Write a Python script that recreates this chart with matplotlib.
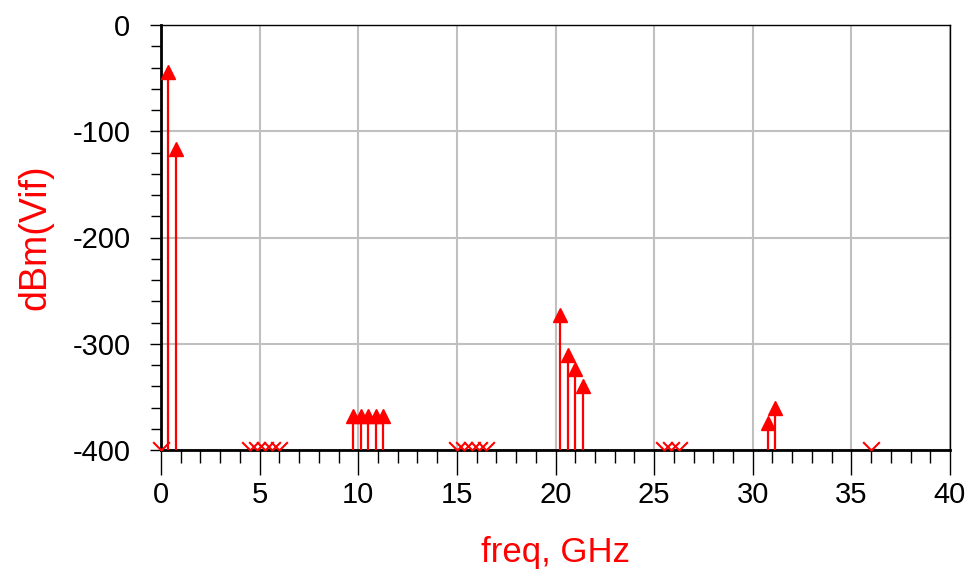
import numpy as np
import matplotlib.pyplot as plt
from matplotlib.path import Path
from matplotlib.ticker import MultipleLocator

plt.rcParams['font.family'] = ['Liberation Sans', 'DejaVu Sans']

# spectral lines above the plot floor (GHz, dBm)
arrow_freq = [0.375, 0.75, 9.75, 10.125, 10.5, 10.875, 11.25,
              20.25, 20.625, 21.0, 21.375, 30.75, 31.125]
arrow_dbm = [-44, -117, -368, -368, -368, -368, -368,
             -273, -311, -324, -340, -375, -360]

# tones below the -400 dBm floor
floor_freq = [0, 4.5, 4.875, 5.25, 5.625, 6.0,
              15.0, 15.375, 15.75, 16.125, 16.5,
              25.5, 25.875, 26.25, 36.0]

xticks = [0, 5, 10, 15, 20, 25, 30, 35, 40]
yticks = [0, -100, -200, -300, -400]
floor = -400

red = '#ff0000'
chevron = Path([(-1, 1), (0, 0), (1, 1)],
               [Path.MOVETO, Path.LINETO, Path.LINETO])

fig = plt.figure(figsize=(9.69, 5.73), dpi=100)
ax = fig.add_axes([161/969, 1 - 450/573, (950-161)/969, (450-25)/573])

ax.vlines(arrow_freq, floor, arrow_dbm, color=red, lw=1.6, zorder=3)
ax.plot(arrow_freq, arrow_dbm, ls='none', marker='^', ms=10.5,
        color=red, zorder=4, clip_on=False)
ax.plot(floor_freq, [floor]*len(floor_freq), ls='none', marker=chevron,
        ms=12, mew=1.5, color=red, fillstyle='none', zorder=4, clip_on=False)

ax.set_xlim(0, 40)
ax.set_ylim(-400, 0)
ax.set_xticks(xticks)
ax.set_yticks(yticks)
ax.set_yticklabels([str(v) for v in yticks])
ax.xaxis.set_minor_locator(MultipleLocator(1))
ax.yaxis.set_minor_locator(MultipleLocator(20))
ax.grid(True, which='major', color='#c0c0c0', lw=1.5)
ax.set_axisbelow(True)

ax.tick_params(axis='x', which='major', direction='out', length=18,
               width=1, labelsize=21, pad=4)
ax.tick_params(axis='x', which='minor', direction='out', length=9, width=1)
ax.tick_params(axis='y', which='major', direction='out', length=8,
               width=1, labelsize=21, pad=14)
ax.tick_params(axis='y', which='minor', direction='out', length=7, width=1)

for s in ['left', 'bottom']:
    ax.spines[s].set_linewidth(2)
for s in ['right', 'top']:
    ax.spines[s].set_linewidth(1)

ax.set_xlabel('freq, GHz', color=red, fontsize=25, labelpad=20)
ax.set_ylabel('dBm(Vif)', color=red, fontsize=27, labelpad=14)

fig.savefig('out.png', dpi=100)
